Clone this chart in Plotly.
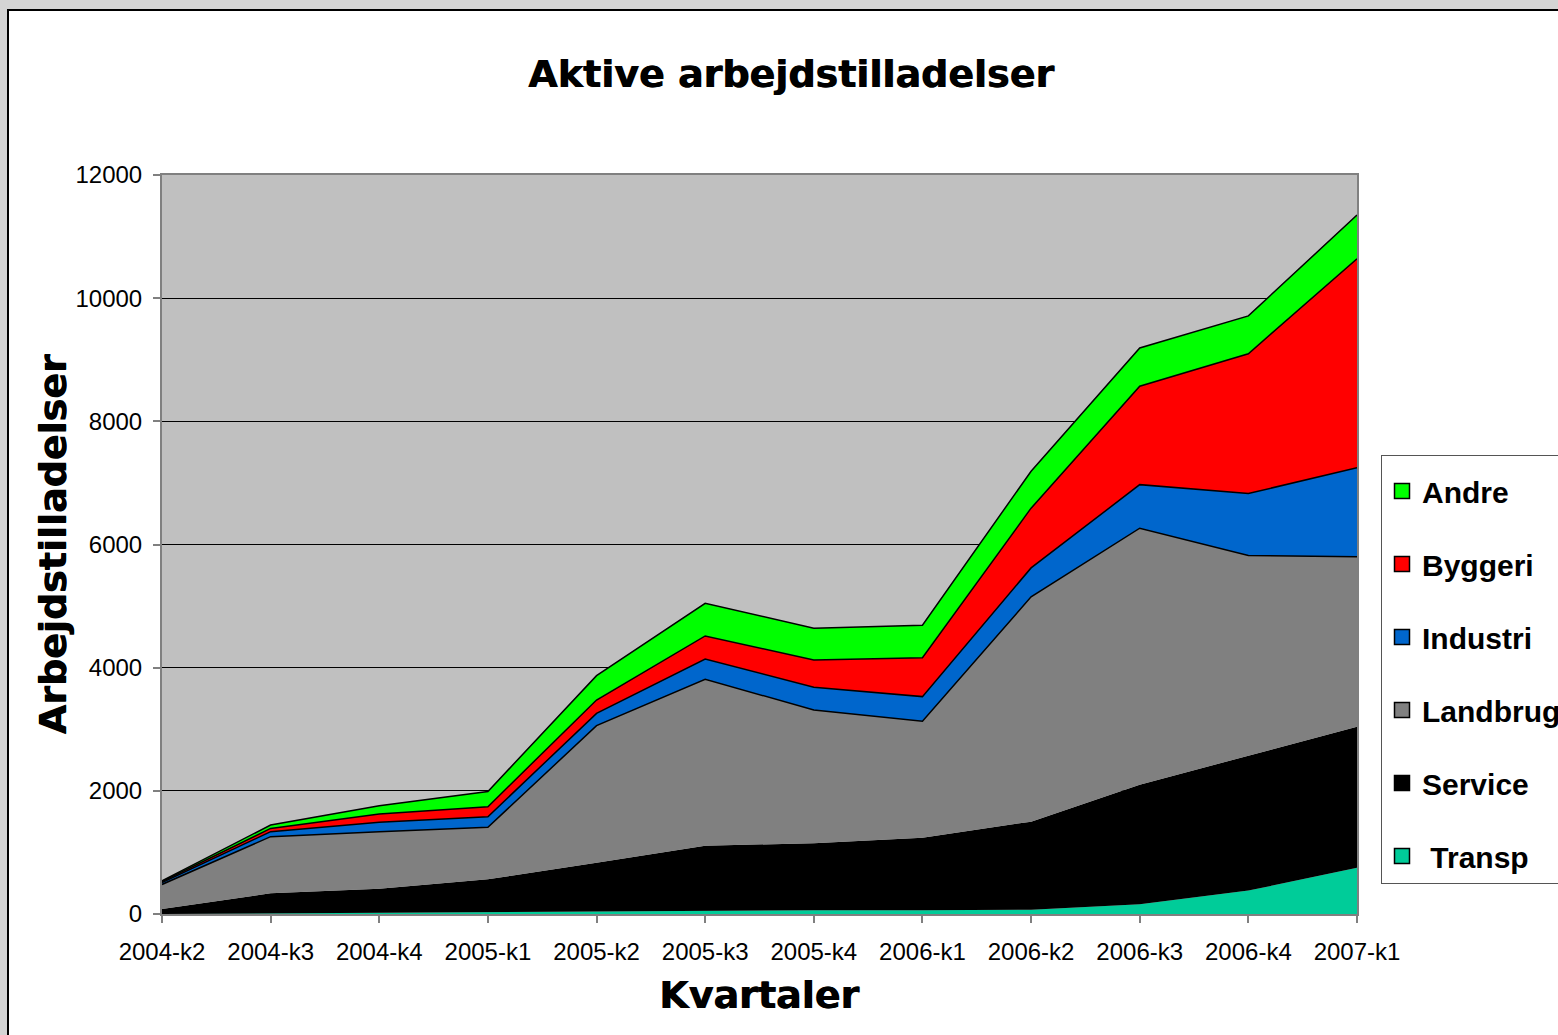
import plotly.graph_objects as go

kvartaler = ["2004-k2", "2004-k3", "2004-k4", "2005-k1", "2005-k2", "2005-k3",
             "2005-k4", "2006-k1", "2006-k2", "2006-k3", "2006-k4", "2007-k1"]

transp = [0, 10, 30, 40, 50, 55, 60, 60, 70, 160, 380, 750]
service = [80, 326, 381, 523, 783, 1055, 1088, 1180, 1430, 1940, 2190, 2290]
landbrug = [400, 920, 926, 845, 2225, 2701, 2165, 1890, 3650, 4164, 3250, 2760]
industri = [30, 81, 151, 172, 199, 330, 368, 400, 470, 708, 1008, 1445]
byggeri = [15, 53, 136, 162, 218, 374, 444, 630, 970, 1599, 2270, 3395]
andre = [15, 55, 135, 248, 395, 530, 515, 530, 600, 621, 614, 710]

series = [
    ("Transp", transp, "#00CC99", 0),
    ("Service", service, "#000000", 0),
    ("Landbrug", landbrug, "#808080", 1.5),
    ("Industri", industri, "#0066CC", 1.5),
    ("Byggeri", byggeri, "#FF0000", 1.5),
    ("Andre", andre, "#00FF00", 1.5),
]

fig = go.Figure()
for navn, vals, farve, lw in series:
    fig.add_trace(go.Scatter(
        x=kvartaler, y=vals, name=navn, showlegend=False,
        mode="lines", stackgroup="one",
        fillcolor=farve,
        line=dict(color="#000000" if lw else farve, width=lw),
    ))

# legend entries as square markers (Excel style)
for rank, (navn, vals, farve, lw) in enumerate(reversed(series)):
    fig.add_trace(go.Scatter(
        x=[None], y=[None], mode="markers",
        name=" " + navn if navn == "Transp" else navn,
        legendgroup=navn, legendrank=rank + 1,
        marker=dict(symbol="square", size=15, color=farve,
                    line=dict(color="black", width=1.5)),
    ))

# plot area in pixels: x 162..1357, y 175..914
L, R, T, B = 162, 1357, 175, 914
W, H = R - L, B - T

def px_x(p):
    return (p - L) / W

def px_y(p):
    return (B - p) / H

fnt_titel = dict(family="DejaVu Sans", size=38, color="black",
                 shadow="0.8px 0px 0px black")

fig.update_layout(
    width=1558, height=1035,
    margin=dict(l=L, r=1558 - R, t=T, b=1035 - B, autoexpand=False),
    paper_bgcolor="#D4D4D4",
    plot_bgcolor="#C0C0C0",
    showlegend=True,
    title=dict(text="<b>Aktive arbejdstilladelser</b>", font=fnt_titel,
               x=791 / 1558, xanchor="center", xref="container",
               y=1 - 74 / 1035, yanchor="middle", yref="container"),
    legend=dict(
        x=px_x(1381), xanchor="left", y=px_y(455), yanchor="top",
        traceorder="grouped", tracegroupgap=31,
        title=dict(text=" ", font=dict(size=7)),
        font=dict(family="Liberation Sans", size=30, color="black", weight="bold"),
        bordercolor="#555555", borderwidth=1, bgcolor="white",
    ),
    shapes=[
        dict(type="rect", xref="paper", yref="paper", layer="below",
             x0=px_x(8), x1=px_x(1600), y0=px_y(1100), y1=px_y(10),
             fillcolor="white", line=dict(color="black", width=2)),
        dict(type="rect", xref="paper", yref="paper", layer="below",
             x0=0, x1=1, y0=0, y1=1, fillcolor="#C0C0C0", line=dict(width=0)),
    ],
    annotations=[
        dict(text="<b>Arbejdstilladelser</b>", xref="paper", yref="paper",
             x=px_x(52), y=0.5, textangle=-90, showarrow=False,
             xanchor="center", yanchor="middle", font=fnt_titel),
        dict(text="<b>Kvartaler</b>", xref="paper", yref="paper",
             x=px_x(759), y=px_y(995), showarrow=False,
             xanchor="center", yanchor="middle", font=fnt_titel),
    ],
)

fig.update_xaxes(
    type="category", range=[0, 11], showgrid=False,
    showline=True, linecolor="#808080", linewidth=2, mirror=True,
    ticks="outside", ticklen=7, tickcolor="#808080", tickwidth=2,
    ticklabelstandoff=8,
    tickfont=dict(family="Liberation Sans", size=24, color="black"),
)
fig.update_yaxes(
    range=[0, 12000], dtick=2000, tickformat="d",
    showgrid=True, gridcolor="black", gridwidth=1,
    zeroline=False, showline=True, linecolor="#808080", linewidth=2, mirror=True,
    ticks="outside", ticklen=7, tickcolor="#808080", tickwidth=2,
    ticklabelstandoff=6,
    tickfont=dict(family="Liberation Sans", size=24, color="black"),
)

fig.write_html("out.html", config={"displayModeBar": False},
               post_script="document.body.style.margin='0';")
